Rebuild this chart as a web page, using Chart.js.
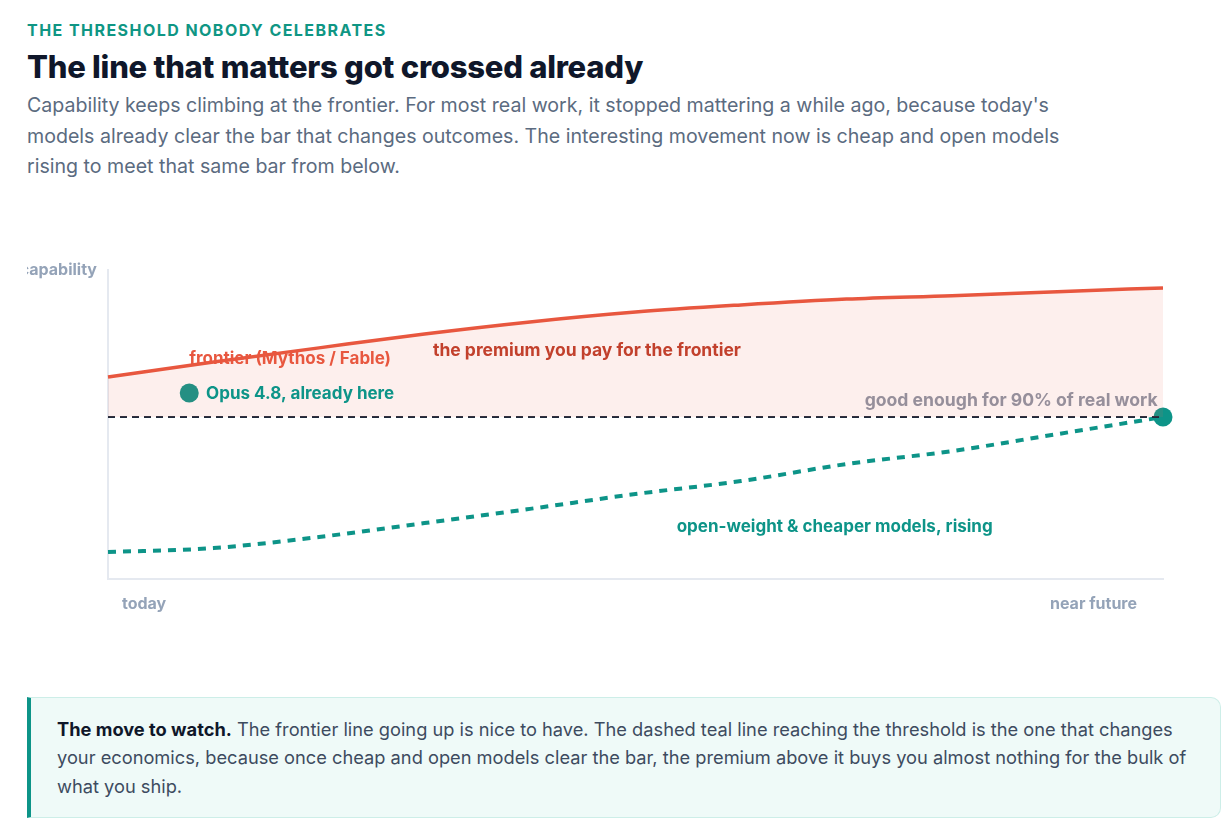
<!DOCTYPE html>
<html lang="en">
  <head>
    <meta charset="UTF-8" />
    <title>The line that matters got crossed already</title>
    <script src="https://cdn.jsdelivr.net/npm/chart.js@4.4.1/dist/chart.umd.min.js"></script>
    <style>
      body { margin: 0; background: #fff; font-family: Inter, "Noto Sans", sans-serif; }
      .page { width: 1194px; padding-left: 27px; }
      .eyebrow { margin-top: 20px; height: 20px; line-height: 20px; font-size: 16px; font-weight: 700;
        letter-spacing: 1.45px; color: #0f9684; }
      h1 { margin: 9px 0 0; height: 36px; line-height: 36px; font-size: 31px; font-weight: 800;
        letter-spacing: -0.25px; color: #0f172a; }
      .sub { margin: 5px 0 0; max-width: 1060px; font-size: 19.6px; line-height: 30.5px; color: #5b6b80; }
      .chart-box { position: relative; margin-top: 48px; height: 400px; overflow: hidden; }
      .note { margin-top: 67px; background: #effaf8; border: 1px solid #cdeee8; border-left: 4px solid #0d9488;
        border-radius: 0 10px 10px 0; padding: 17px 28px 17px 26px; font-size: 18.25px; line-height: 28.5px; color: #3d4b5f; }
      .note b { color: #0f172a; }
    </style>
  </head>
  <body>
    <div class="page">
      <div class="eyebrow">THE THRESHOLD NOBODY CELEBRATES</div>
      <h1>The line that matters got crossed already</h1>
      <p class="sub">Capability keeps climbing at the frontier. For most real work, it stopped mattering a while ago, because today's models already clear the bar that changes outcomes. The interesting movement now is cheap and open models rising to meet that same bar from below.</p>
      <div class="chart-box"><canvas id="chart"></canvas></div>
      <div class="note"><b>The move to watch.</b> The frontier line going up is nice to have. The dashed teal line reaching the threshold is the one that changes your economics, because once cheap and open models clear the bar, the premium above it buys you almost nothing for the bulk of what you ship.</div>
    </div>
    <script>
      // time steps from "today" (0) to "near future" (10)
      const steps = [0, 1, 2, 3, 4, 5, 6, 7, 8, 9, 10];
      const frontier = [65.4, 70.2, 74.8, 79.3, 83.2, 86.4, 88.7, 90.6, 91.7, 93.0, 94.2];
      const openWeight = [8.7, 10.0, 13.6, 18.1, 22.7, 27.5, 31.7, 37.2, 41.4, 46.9, 52.4];
      const threshold = 52.4;
      const opus = { x: 0.77, y: 60.2 };
      const xLabels = ["today", "near future"];
      const yLabel = "capability";

      const TEAL = "#0d9488";
      const RED = "#e8573f";

      // text drawn over the chart, anchored in data units
      const notes = [
        { text: "frontier (Mythos / Fable)", x: 0.77, y: 71.2, align: "left", color: RED, size: 17 },
        { text: "the premium you pay for the frontier", x: 3.08, y: 73.8, align: "left", color: "#c2402c", size: 17.5 },
        { text: "Opus 4.8, already here", x: 0.93, y: 59.9, align: "left", color: TEAL, size: 17 },
        { text: "good enough for 90% of real work", x: 9.95, y: 57.6, align: "right", color: "#968f9b", size: 17.6 },
        { text: "open-weight & cheaper models, rising", x: 5.39, y: 16.8, align: "left", color: TEAL, size: 17 }
      ];

      const notePlugin = {
        id: "notes",
        afterDatasetsDraw(chart) {
          const { ctx, chartArea, scales } = chart;
          ctx.save();
          ctx.textBaseline = "middle";
          notes.forEach(n => {
            ctx.font = "700 " + n.size + "px Inter";
            ctx.fillStyle = n.color;
            ctx.textAlign = n.align;
            ctx.fillText(n.text, scales.x.getPixelForValue(n.x), scales.y.getPixelForValue(n.y));
          });
          ctx.font = "700 16px Inter";
          ctx.fillStyle = "#94a3b8";
          ctx.textAlign = "right";
          ctx.fillText(yLabel, chartArea.left - 11, chartArea.top);
          ctx.textAlign = "left";
          ctx.fillText(xLabels[0], chartArea.left + 14, chartArea.bottom + 25);
          ctx.textAlign = "right";
          ctx.fillText(xLabels[1], chartArea.right - 26, chartArea.bottom + 25);
          ctx.restore();
        }
      };

      const ctx = document.getElementById("chart").getContext("2d");
      new Chart(ctx, {
        type: "line",
        data: {
          datasets: [
            {
              // frontier, filled down to the threshold
              data: steps.map((s, i) => ({ x: s, y: frontier[i] })),
              borderColor: RED,
              borderWidth: 3.5,
              pointRadius: 0,
              cubicInterpolationMode: "monotone",
              fill: { value: threshold },
              backgroundColor: "rgba(240, 110, 90, 0.11)",
              clip: false
            },
            {
              // threshold
              data: [{ x: steps[0], y: threshold }, { x: steps[steps.length - 1], y: threshold }],
              borderColor: "#1e293b",
              borderWidth: 2,
              borderDash: [7, 5],
              pointRadius: 0,
              fill: false
            },
            {
              // open-weight & cheaper
              data: steps.map((s, i) => ({ x: s, y: openWeight[i] })),
              borderColor: TEAL,
              borderWidth: 4,
              borderDash: [8, 7],
              cubicInterpolationMode: "monotone",
              pointRadius: steps.map((s, i) => (i === steps.length - 1 ? 9.5 : 0)),
              pointBackgroundColor: TEAL,
              pointBorderWidth: 0,
              fill: false,
              clip: false
            },
            {
              // Opus 4.8
              type: "scatter",
              data: [opus],
              pointRadius: 9.5,
              pointBackgroundColor: TEAL,
              pointBorderWidth: 0,
              clip: false
            }
          ]
        },
        options: {
          responsive: true,
          maintainAspectRatio: false,
          animation: false,
          layout: { padding: { left: 81, right: 58, top: 40, bottom: 51 } },
          plugins: { legend: { display: false }, tooltip: { enabled: false } },
          scales: {
            x: {
              type: "linear",
              min: 0,
              max: 10,
              ticks: { display: false },
              grid: { display: false, drawTicks: false },
              border: { display: true, color: "#e5e9f0", width: 2 }
            },
            y: {
              min: 0,
              max: 100,
              ticks: { display: false },
              grid: { display: false, drawTicks: false },
              border: { display: true, color: "#e5e9f0", width: 2 }
            }
          }
        },
        plugins: [notePlugin]
      });
    </script>
  </body>
</html>
